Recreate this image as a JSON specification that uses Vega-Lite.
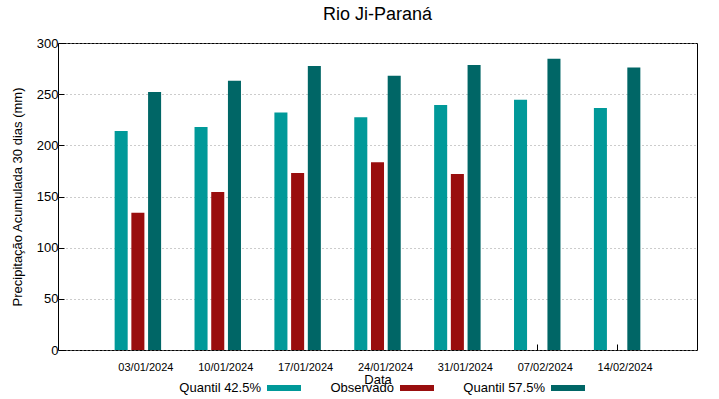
{
  "$schema": "https://vega.github.io/schema/vega-lite/v6.json",
  "width": 639,
  "height": 307,
  "autosize": {"type": "none"},
  "padding": {"left": 58, "top": 43, "right": 22, "bottom": 49},
  "background": "white",
  "title": {"text": "Rio Ji-Paraná", "font": "Liberation Sans", "fontSize": 18, "fontWeight": "normal", "color": "#000000", "offset": 13, "anchor": "middle"},
  "config": {
    "view": {"stroke": "#000000", "strokeWidth": 1},
    "font": "Liberation Sans"
  },
  "data": {
    "values": [
      {"date": "03/01/2024", "series": "Quantil 42.5%", "value": 214},
      {"date": "03/01/2024", "series": "Observado", "value": 134},
      {"date": "03/01/2024", "series": "Quantil 57.5%", "value": 252},
      {"date": "10/01/2024", "series": "Quantil 42.5%", "value": 218},
      {"date": "10/01/2024", "series": "Observado", "value": 154.5},
      {"date": "10/01/2024", "series": "Quantil 57.5%", "value": 263},
      {"date": "17/01/2024", "series": "Quantil 42.5%", "value": 232},
      {"date": "17/01/2024", "series": "Observado", "value": 173},
      {"date": "17/01/2024", "series": "Quantil 57.5%", "value": 277.5},
      {"date": "24/01/2024", "series": "Quantil 42.5%", "value": 227.5},
      {"date": "24/01/2024", "series": "Observado", "value": 183.5},
      {"date": "24/01/2024", "series": "Quantil 57.5%", "value": 268},
      {"date": "31/01/2024", "series": "Quantil 42.5%", "value": 239.5},
      {"date": "31/01/2024", "series": "Observado", "value": 172},
      {"date": "31/01/2024", "series": "Quantil 57.5%", "value": 278.5},
      {"date": "07/02/2024", "series": "Quantil 42.5%", "value": 244.5},
      {"date": "07/02/2024", "series": "Quantil 57.5%", "value": 284.5},
      {"date": "14/02/2024", "series": "Quantil 42.5%", "value": 236.5},
      {"date": "14/02/2024", "series": "Quantil 57.5%", "value": 276}
    ]
  },
  "mark": {"type": "bar"},
  "encoding": {
    "x": {
      "field": "date", "type": "ordinal", "sort": null,
      "scale": {"paddingInner": 0, "paddingOuter": 0.5},
      "axis": {
        "title": "Data", "titleFont": "Liberation Sans", "titleFontSize": 13, "titleFontWeight": "normal", "titleColor": "#000", "titlePadding": 1,
        "labelAngle": 0, "labelFontSize": 11, "labelColor": "#000", "labelOffset": 8, "labelPadding": 17,
        "tickSize": -6, "tickColor": "#000", "domain": false, "grid": false
      }
    },
    "xOffset": {"field": "series", "type": "nominal", "sort": ["Quantil 42.5%", "Observado", "Quantil 57.5%"], "scale": {"paddingInner": 0.22, "paddingOuter": 1.11}},
    "y": {
      "field": "value", "type": "quantitative",
      "scale": {"domain": [0, 300], "nice": false},
      "axis": {
        "title": "Precipitação Acumulada 30 dias (mm)", "titleFont": "Liberation Sans", "titleFontSize": 13, "titleFontWeight": "normal", "titleColor": "#000", "titlePadding": 12,
        "values": [0, 50, 100, 150, 200, 250, 300], "labelFontSize": 13, "labelColor": "#000", "labelPadding": 6,
        "tickSize": -6, "tickColor": "#000", "domain": false,
        "grid": true, "gridColor": "#999999", "gridDash": [1, 3], "gridWidth": 1
      }
    },
    "color": {
      "field": "series", "type": "nominal",
      "scale": {"domain": ["Quantil 42.5%", "Observado", "Quantil 57.5%"], "range": ["#009999", "#990e0e", "#006666"]},
      "legend": {
        "title": null, "orient": "none", "direction": "horizontal", "legendX": 209, "legendY": 328,
        "symbolType": "M-1,-0.18H1V0.18H-1Z", "symbolSize": 1156, "symbolStrokeWidth": 0,
        "labelFontSize": 13, "labelColor": "#000", "labelAlign": "right", "labelOffset": -40, "columnPadding": 29
      }
    }
  }
}
